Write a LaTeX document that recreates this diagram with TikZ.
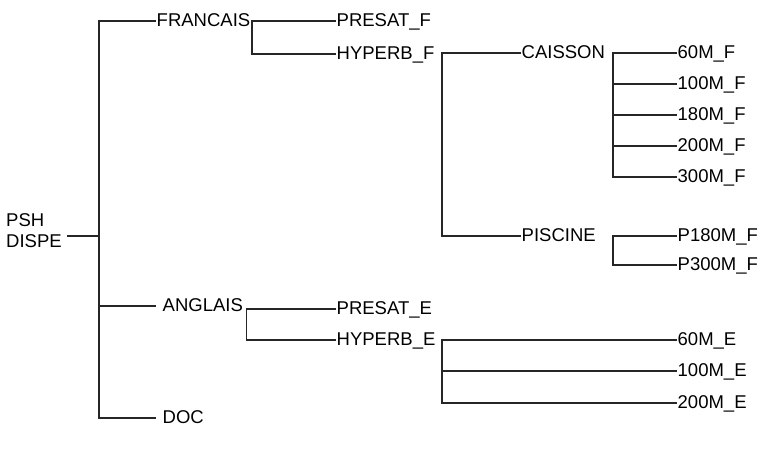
\documentclass[tikz,border=0pt]{standalone}
\usepackage{fontspec}
\setmainfont{Liberation Sans}
\begin{document}
\begin{tikzpicture}[x=1pt,y=-1pt,
  lbl/.style={anchor=west, inner xsep=1.5pt, inner ysep=0pt, font=\fontsize{18.5}{21}\selectfont, text height=12.5pt, text depth=1pt},
  conn/.style={line width=1.5pt, draw=black!85, line cap=rect}]
\useasboundingbox (0,0) rectangle (764,453);
% root
\node[anchor=north west, inner sep=0pt, align=left, font=\fontsize{18.5}{21}\selectfont] (root) at (6,213) {PSH\\DISPE};
% level 1
\node[lbl] (fr) at (155,21) {FRANCAIS};
\node[lbl] (an) at (161,306) {ANGLAIS};
\node[lbl] (doc) at (161,418) {DOC};
% level 2
\node[lbl] (pf) at (335,21) {PRESAT\_F};
\node[lbl] (hf) at (335,54) {HYPERB\_F};
\node[lbl] (pe) at (335,309) {PRESAT\_E};
\node[lbl] (he) at (335,340) {HYPERB\_E};
% level 3
\node[lbl] (ca) at (520,53) {CAISSON};
\node[lbl] (pi) at (520,236) {PISCINE};
% leaves
\node[lbl] (c60) at (676,53) {60M\_F};
\node[lbl] (c100) at (676,84) {100M\_F};
\node[lbl] (c180) at (676,115) {180M\_F};
\node[lbl] (c200) at (676,146) {200M\_F};
\node[lbl] (c300) at (676,177) {300M\_F};
\node[lbl] (p180) at (676,236) {P180M\_F};
\node[lbl] (p300) at (676,265) {P300M\_F};
\node[lbl] (e60) at (676,340) {60M\_E};
\node[lbl] (e100) at (676,371) {100M\_E};
\node[lbl] (e200) at (676,403) {200M\_E};
% junction columns
\coordinate (j0) at (99,236);
\coordinate (colh) at (442,0);
\coordinate (colc) at (613,0);
% connectors
\draw[conn] ([xshift=6pt]root.east |- j0) -- (j0);
\draw[conn] (fr.west) -| (j0) |- ([xshift=-6pt]doc.west);
\draw[conn] (j0 |- an.west) -- ([xshift=-6pt]an.west);
\draw[conn] (pf.west) -| (fr.east |- hf.west) -- (hf.west);
\draw[conn] (pe.west) -| ([xshift=2pt]an.east |- he.west) -- (he.west);
\draw[conn] (ca.west) -| (colh |- pi.west) -- (pi.west);
\draw[conn] (c60.west) -| (colc |- c300.west) -- (c300.west);
\draw[conn] (colc |- c100.west) -- (c100.west);
\draw[conn] (colc |- c180.west) -- (c180.west);
\draw[conn] (colc |- c200.west) -- (c200.west);
\draw[conn] (p180.west) -| (colc |- p300.west) -- (p300.west);
\draw[conn] (e60.west) -| (colh |- e200.west) -- (e200.west);
\draw[conn] (colh |- e100.west) -- (e100.west);
\end{tikzpicture}
\end{document}
